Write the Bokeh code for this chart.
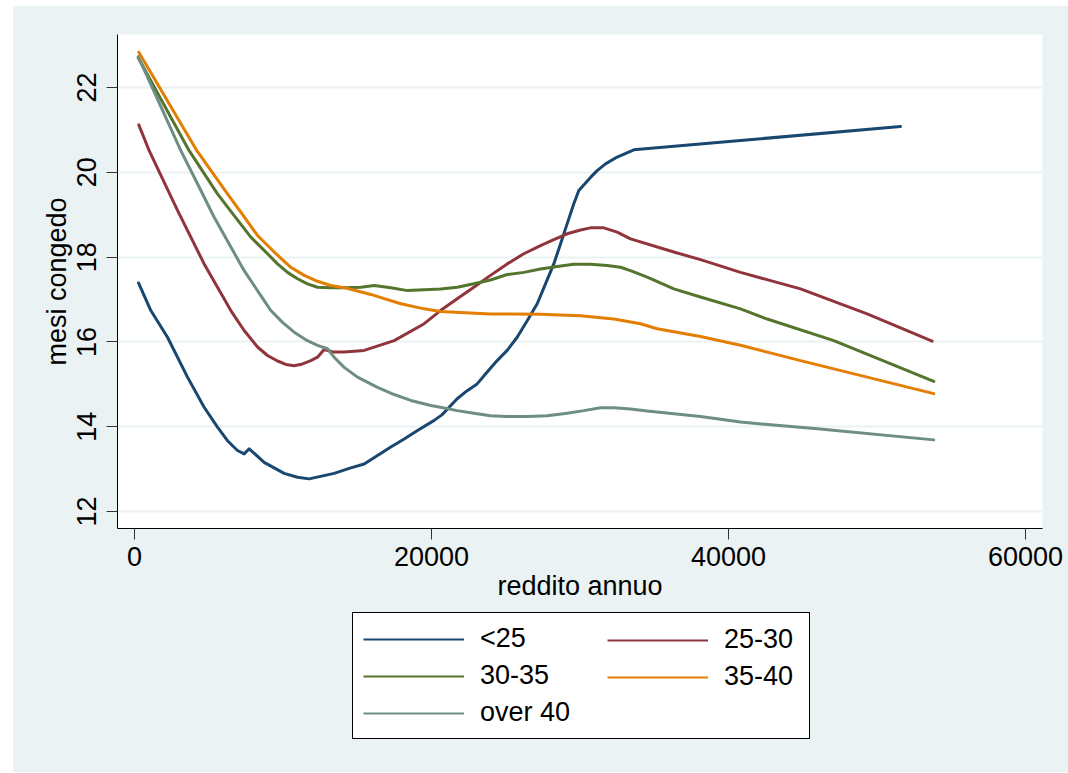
from bokeh.plotting import figure
from bokeh.models import Range1d, FixedTicker, Legend, LegendItem
from bokeh.layouts import column
from bokeh.embed import file_html
from bokeh.resources import INLINE

# ---- data ----
series_names = ["<25", "25-30", "30-35", "35-40", "over 40"]

x_lt25 = [270, 1100, 2222, 3569, 4690, 5589, 6263, 6936, 7385, 7722, 8732, 10078, 10976,
          11762, 13445, 14568, 15466, 17260, 18161, 19057, 20182, 20700, 21728, 22404,
          23075, 23750, 24421, 25097, 25768, 26444, 27118, 27677, 28236, 28687, 29138,
          29583, 29920, 30707, 31158, 31717, 32503, 33625, 40808, 51582]
y_lt25 = [17.39, 16.74, 16.11, 15.17, 14.46, 13.99, 13.67, 13.44, 13.36, 13.48, 13.16, 12.90, 12.81,
          12.77, 12.90, 13.03, 13.12, 13.52, 13.71, 13.91, 14.15, 14.28, 14.66, 14.85,
          15.01, 15.29, 15.56, 15.80, 16.11, 16.50, 16.90, 17.37, 17.84, 18.31, 18.79,
          19.26, 19.57, 19.88, 20.04, 20.20, 20.36, 20.53, 20.75, 21.08]

x_25_30 = [290, 988, 2896, 4690, 6487, 7385, 8283, 8956, 9630, 10191, 10752, 11313, 11874,
           12323, 12773, 13400, 14119, 15466, 17486, 19508, 20606, 21731, 22850, 23973,
           25097, 26218, 27340, 28236, 29138, 30034, 30707, 31605, 32503, 33401, 36317,
           38114, 40808, 44848, 49337, 53714]
y_25_30 = [21.12, 20.51, 19.10, 17.84, 16.74, 16.27, 15.88, 15.68, 15.55, 15.47, 15.44, 15.48, 15.56,
           15.64, 15.82, 15.76, 15.76, 15.80, 16.03, 16.43, 16.74, 17.02, 17.29, 17.57,
           17.84, 18.08, 18.27, 18.41, 18.55, 18.64, 18.69, 18.69, 18.59, 18.43, 18.12,
           17.94, 17.64, 17.25, 16.66, 16.02]

x_30_35 = [250, 3681, 5589, 6712, 7834, 8732, 9630, 10303, 10976, 11650, 12323, 13221, 14119,
           15241, 16138, 17260, 18384, 20606, 21731, 22850, 23973, 25097, 26218, 27340,
           28462, 29585, 30707, 31832, 32727, 33401, 34525, 36317, 38114, 40808, 42606,
           47091, 53825]
y_30_35 = [22.70, 20.51, 19.49, 18.98, 18.47, 18.16, 17.84, 17.64, 17.49, 17.37, 17.29, 17.28, 17.28,
           17.29, 17.33, 17.28, 17.21, 17.25, 17.29, 17.37, 17.46, 17.59, 17.64, 17.72,
           17.78, 17.83, 17.83, 17.80, 17.76, 17.68, 17.53, 17.25, 17.06, 16.78, 16.54,
           16.03, 15.07]

x_35_40 = [290, 4200, 6263, 7160, 8283, 9408, 10527, 11428, 12323, 13221, 14119, 15017, 15914,
           16815, 17935, 19508, 20606, 23973, 27340, 30034, 32278, 34074, 35198, 38114,
           40808, 44848, 49337, 53825]
y_35_40 = [22.83, 20.51, 19.49, 19.06, 18.51, 18.12, 17.76, 17.57, 17.43, 17.33, 17.28, 17.20, 17.12,
           17.02, 16.90, 16.78, 16.72, 16.66, 16.65, 16.62, 16.54, 16.43, 16.31, 16.13,
           15.92, 15.56, 15.17, 14.78]

x_over40 = [250, 3120, 4242, 5365, 6375, 7385, 8283, 9182, 9966, 10752, 11537, 12323, 12997,
            13445, 14119, 15017, 16364, 17486, 18606, 19956, 20606, 21731, 22850, 23973,
            25097, 26444, 27791, 29138, 30256, 31380, 32278, 33401, 34525, 38114, 40808,
            45973, 53825]
y_over40 = [22.73, 20.51, 19.73, 18.94, 18.31, 17.68, 17.21, 16.74, 16.46, 16.23, 16.05, 15.92, 15.84,
            15.64, 15.40, 15.17, 14.93, 14.76, 14.62, 14.50, 14.46, 14.38, 14.32, 14.26,
            14.24, 14.24, 14.26, 14.32, 14.38, 14.45, 14.45, 14.42, 14.37, 14.24, 14.11,
            13.95, 13.69]

x_ticks = [0, 20000, 40000, 60000]
y_ticks = [12, 14, 16, 18, 20, 22]

colors = ["#1A476F", "#90353B", "#55752F", "#E37E00", "#6E8E84"]

FONT = "Liberation Sans"
FS = "27px"
BG = "#EAF2F3"

# page placement (pixels on the page)
OFF_X, OFF_Y = 13, 6
W = 1068 - OFF_X
H1 = 606
H2 = 160
PAGE_BOTTOM = OFF_Y + H1 + H2
FRAME_L, FRAME_R, FRAME_T, FRAME_B = 117, 1042, 34, 528

p = figure(width=W, height=H1, output_backend="svg", toolbar_location=None,
           x_range=Range1d(-1145, 61145), y_range=Range1d(11.6, 23.25),
           min_border_left=FRAME_L - OFF_X, min_border_right=W - (FRAME_R - OFF_X),
           min_border_top=FRAME_T - OFF_Y, min_border_bottom=H1 - (FRAME_B - OFF_Y))
p.background_fill_color = "white"
p.border_fill_color = BG
p.outline_line_color = None

# grid
p.xgrid.grid_line_color = None
p.ygrid.grid_line_color = BG
p.ygrid.grid_line_width = 2
p.ygrid.ticker = FixedTicker(ticks=y_ticks)

# axes
for ax in (p.xaxis[0], p.yaxis[0]):
    ax.axis_line_color = "black"
    ax.axis_line_width = 1
    ax.major_tick_line_color = "#333333"
    ax.major_tick_out = 11
    ax.major_tick_in = 0
    ax.minor_tick_line_color = None
    ax.major_label_text_font = FONT
    ax.major_label_text_font_size = FS
    ax.major_label_text_color = "black"
    ax.axis_label_text_font = FONT
    ax.axis_label_text_font_size = FS
    ax.axis_label_text_font_style = "normal"
    ax.axis_label_text_color = "black"

p.xaxis.ticker = FixedTicker(ticks=x_ticks)
p.yaxis.ticker = FixedTicker(ticks=y_ticks)
p.xaxis.axis_label = "reddito annuo"
p.yaxis.axis_label = "mesi congedo"
p.yaxis.major_label_orientation = "vertical"
p.xaxis.major_label_standoff = 7
p.yaxis.major_label_standoff = 10
p.xaxis.axis_label_standoff = 2
p.yaxis.axis_label_standoff = 3

xs = [x_lt25, x_25_30, x_30_35, x_35_40, x_over40]
ys = [y_lt25, y_25_30, y_30_35, y_35_40, y_over40]

for xv, yv, c in zip(xs, ys, colors):
    p.line(xv, yv, line_color=c, line_width=3, line_join="round", line_cap="round")

# ---- legend panel (second figure, same background) ----
q = figure(width=W, height=H2, output_backend="svg", toolbar_location=None,
           x_range=Range1d(0, 1), y_range=Range1d(0, 1),
           x_axis_type=None, y_axis_type=None,
           min_border_left=0, min_border_right=0, min_border_top=0, min_border_bottom=0)
q.background_fill_color = BG
q.border_fill_color = BG
q.outline_line_color = None
q.grid.grid_line_color = None

# legend swatches: same series, outside q's (0..1) view, so only the legend shows them
leg_r = {}
for name, xv, yv, c in zip(series_names, xs, ys, colors):
    leg_r[name] = q.line(xv, yv, line_color=c, line_width=2)

BOX_LEFT, BOX_BOTTOM = 352, 739
common = dict(orientation="vertical", glyph_width=101, glyph_height=30,
              label_standoff=16, padding=10, spacing=6, margin=0,
              label_text_font=FONT, label_text_font_size=FS, label_text_color="black")

col1 = ["<25", "30-35", "over 40"]
col2 = ["25-30", "35-40"]

legA = Legend(items=[LegendItem(label=n, renderers=[leg_r[n]]) for n in col1],
              location=(BOX_LEFT - FRAME_L, PAGE_BOTTOM - BOX_BOTTOM),
              label_width=319,
              border_line_color="black", border_line_width=1, border_line_alpha=1.0,
              background_fill_color="white", background_fill_alpha=1.0, **common)
q.add_layout(legA, "center")

legB = Legend(items=[LegendItem(label=n, renderers=[leg_r[n]]) for n in col2],
              location=(490, PAGE_BOTTOM - BOX_BOTTOM + 47),
              border_line_color=None, background_fill_alpha=0.0, **common)
q.add_layout(legB, "center")

layout = column(p, q, spacing=0, margin=(OFF_Y, 0, 0, OFF_X),
                styles={"background-color": BG})
open("out.html", "w").write(file_html(layout, INLINE))
